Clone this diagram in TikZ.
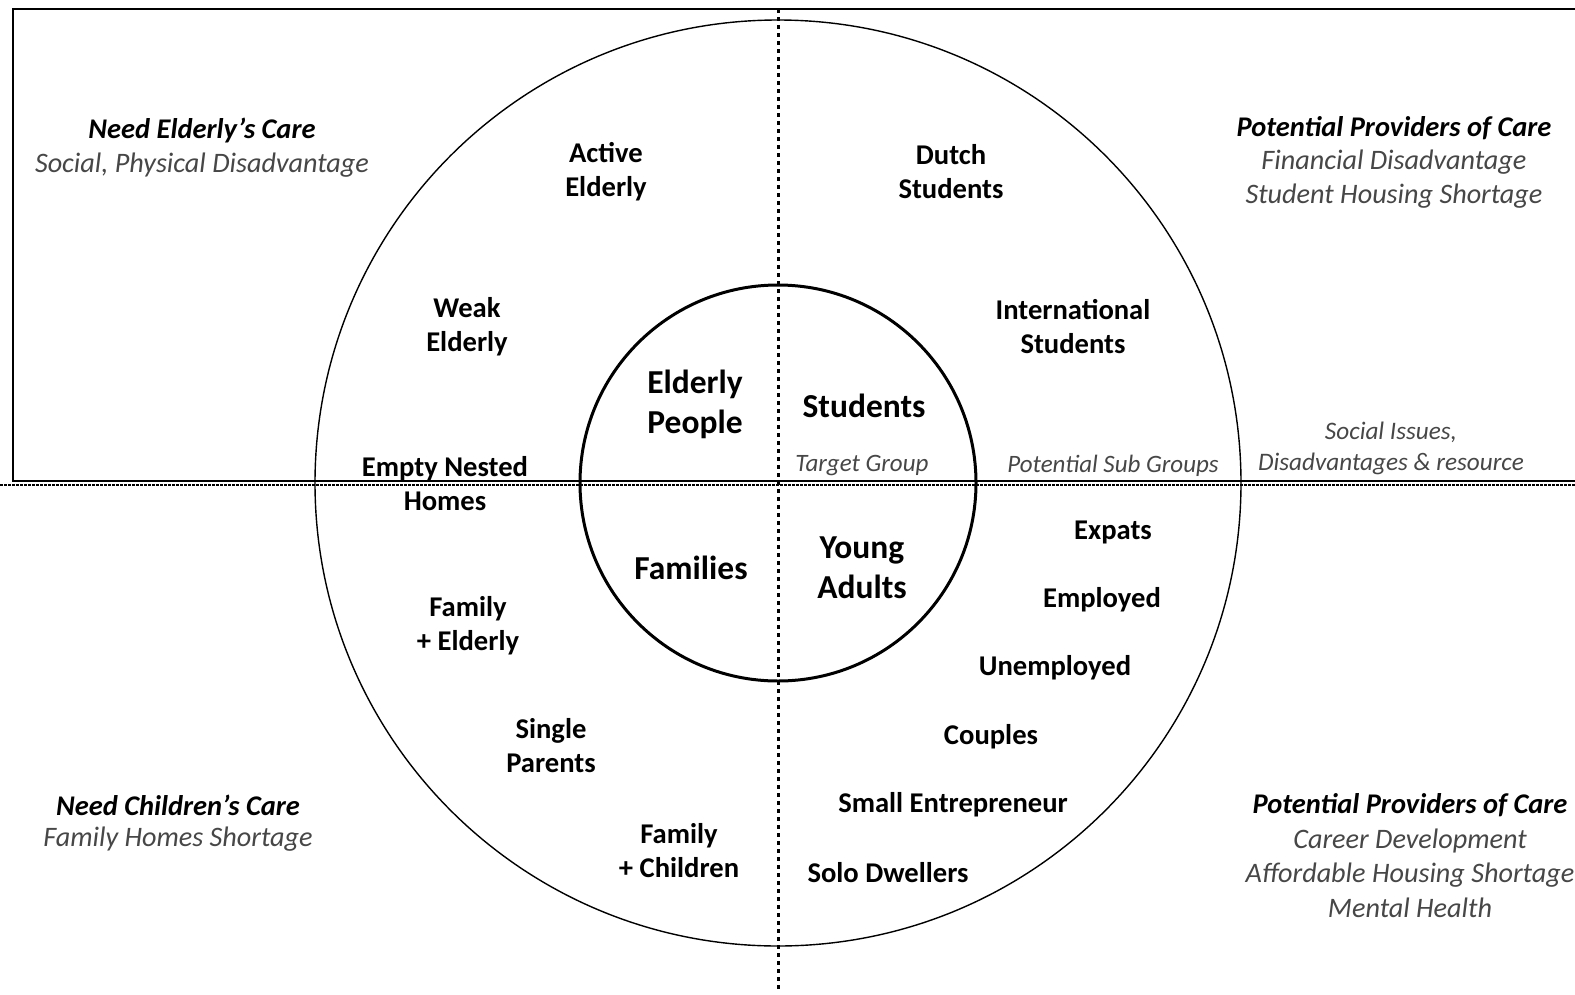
\documentclass[tikz,border=0pt]{standalone}
\usepackage{fontspec}
\setmainfont{Carlito}
\definecolor{desccol}{HTML}{474747}
\tikzset{
  sub/.style={font=\bfseries\fontsize{28.6}{34}\selectfont, align=center, inner sep=0pt},
  big/.style={font=\bfseries\fontsize{33.5}{40}\selectfont, align=center, inner sep=0pt},
  desc/.style={font=\itshape\fontsize{28.2}{34.5}\selectfont, text=desccol, align=center, inner sep=0pt},
  note/.style={font=\itshape\fontsize{25.2}{31}\selectfont, text=desccol, align=center, inner sep=0pt},
  small/.style={font=\itshape\fontsize{25}{30}\selectfont, text=desccol, align=center, inner sep=0pt},
  head/.style={font=\bfseries\itshape\fontsize{28.5}{34}\selectfont, align=center, inner sep=0pt},
  ring/.style={circle, draw, inner sep=0pt},
  dots/.style={line width=3pt, dash pattern=on 4pt off 4pt},
  fine/.style={line width=1.5pt, dash pattern=on 2.5pt off 1.5pt},
}
\begin{document}
\begin{tikzpicture}[x=1pt, y=-1pt]
\useasboundingbox (0,0) rectangle (1575,994);
\fill[white] (0,0) rectangle (1575,994);
% coordinates
\coordinate (bl) at (13,481);
\coordinate (tl) at (13,9);
\coordinate (tr) at (1580,9);
\coordinate (br) at (1580,481);
\coordinate (dl) at (0,485);
\coordinate (dr) at (1580,485);
\coordinate (vt) at (778,9);
\coordinate (vb) at (778,990);
% box
\draw[line width=2.8pt] (br) -- (bl) -- (tl) -- (tr);
\draw[fine] (dl) -- (dr);
% circles
\node[ring, line width=1.4pt, minimum size=926pt] (outer) at (778,483) {};
\node[ring, line width=3pt, minimum size=396pt] (inner) at (778,483) {};
% vertical dotted line
\draw[dots] (vt) -- (vb);
% corner texts
\node[head] (h1) at (202,130) {Need Elderly’s Care};
\node[desc] (d1) at (202,165) {Social, Physical Disadvantage};
\node[head] (h2) at (1394,128) {Potential Providers of Care};
\node[desc] (d2) at (1394,179) {Financial Disadvantage\\Student Housing Shortage};
\node[head] (h3) at (178,805) {Need Children’s Care};
\node[desc] (d3) at (178,839) {Family Homes Shortage};
\node[head] (h4) at (1410,805) {Potential Providers of Care};
\node[desc] (d4) at (1410,873) {Career Development\\Affordable Housing Shortage\\Mental Health};
\node[note] (d5) at (1391,448) {Social Issues,\\Disadvantages \& resource};
% inner labels
\node[big] (ep) at (695,404) {Elderly\\People};
\node[big] (st) at (864,406) {Students};
\node[big] (fa) at (691,568) {Families};
\node[big] (ya) at (862,568) {Young\\Adults};
\node[small] (tg) at (862,466) {Target Group};
\node[small] (psg) at (1113,466) {Potential Sub Groups};
% sub groups
\node[sub] (ae) at (606,172) {Active\\Elderly};
\node[sub] (ds) at (951,172) {Dutch\\Students};
\node[sub] (we) at (467,327) {Weak\\Elderly};
\node[sub] (is) at (1073,327) {International\\Students};
\node[sub] (en) at (445,484) {Empty Nested\\Homes};
\node[sub] (fe) at (468,626) {Family\\+ Elderly};
\node[sub] (sp) at (551,746) {Single\\Parents};
\node[sub] (fc) at (679,851) {Family\\+ Children};
\node[sub] (ex) at (1113,532) {Expats};
\node[sub] (em) at (1102,600) {Employed};
\node[sub] (un) at (1055,668) {Unemployed};
\node[sub] (co) at (991,737) {Couples};
\node[sub] (se) at (953,805) {Small Entrepreneur};
\node[sub] (sd) at (888,873) {Solo Dwellers};
\end{tikzpicture}
\end{document}
